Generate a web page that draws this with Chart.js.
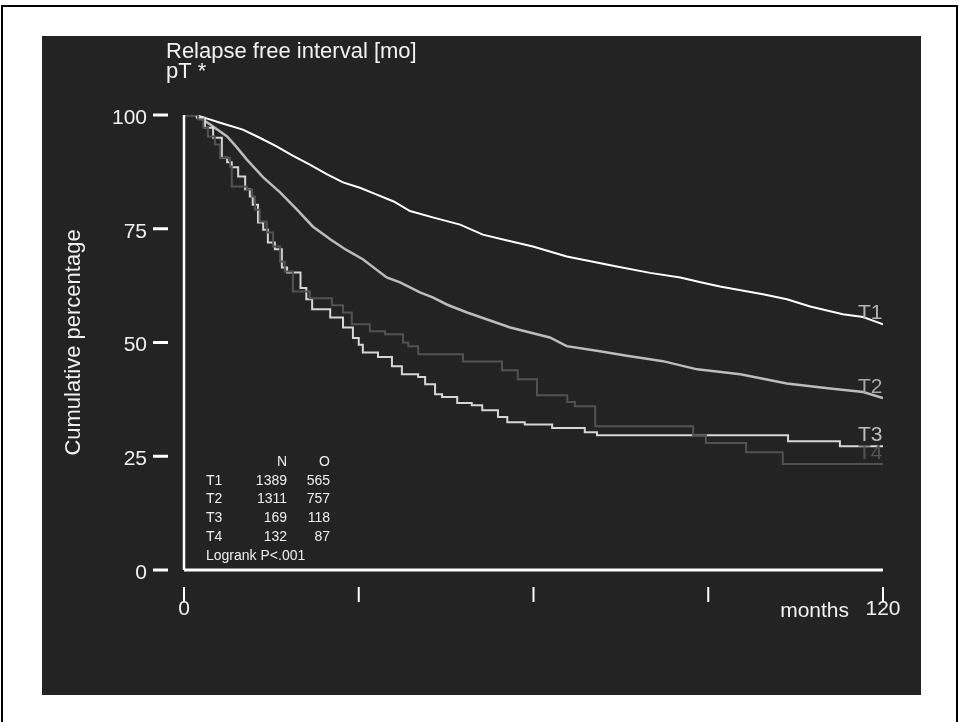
<!DOCTYPE html>
<html>
<head>
<meta charset="utf-8">
<title>Relapse free interval</title>
<script src="https://cdn.jsdelivr.net/npm/chart.js@4.4.1/dist/chart.umd.min.js"></script>
<style>
  html, body { margin: 0; padding: 0; background: #fff; }
  canvas { display: block; }
</style>
</head>
<body>
<canvas id="graficoRecidiva" width="959" height="722"></canvas>
<script>
// Kaplan-Meier curves (months, cumulative %)
const t1Months = [0, 2, 4, 6.2, 10.1, 13, 15.9, 18.5, 21.6, 24.5, 27.3, 30.2, 33.1, 36, 38.8, 42.7, 47.4, 51.3, 55.5, 59.9, 65.7, 70, 74.3, 80, 85.2, 88.5, 92, 99.4, 103.5, 107.5, 113.1, 116.6, 118.5, 120];
const t1Pct = [100, 100, 99.2, 98.3, 96.8, 95, 93.1, 91.2, 89.1, 87, 85.2, 84, 82.5, 81, 78.9, 77.5, 75.9, 73.7, 72.4, 71.1, 68.9, 67.8, 66.7, 65.3, 64.3, 63.3, 62.3, 60.6, 59.5, 57.9, 56.2, 55.6, 54.7, 54];

const t2Months = [0, 2, 4.5, 7.4, 9, 10.8, 13.6, 16.5, 19.4, 22.1, 25.1, 27.8, 30.7, 34.8, 37.1, 40.5, 42.7, 45.2, 48.6, 56, 62.8, 65.7, 71.4, 76, 80, 82.2, 88.1, 95.5, 103.5, 110.9, 116.6, 120];
const t2Pct = [100, 100, 97.9, 95.3, 93, 90.2, 86.3, 83, 79.2, 75.5, 72.7, 70.4, 68.3, 64.3, 63.2, 61, 59.9, 58.3, 56.6, 53.3, 51.1, 49.2, 48.1, 47.1, 46.3, 45.9, 44.1, 43, 41, 39.9, 39.1, 37.8];

const t3Months = [0, 2.2, 3.6, 5, 6.5, 7.4, 8.2, 9.3, 10.5, 11.3, 11.8, 12.7, 13.6, 14.4, 15.6, 16.8, 17.7, 20, 21, 22, 25.1, 27.3, 29, 30, 30.7, 33.3, 35.7, 37.4, 40.2, 41.4, 43.1, 44.3, 46.9, 49.4, 51.2, 53.9, 55.5, 58.5, 63.2, 68.8, 70.9, 103.7, 112.6, 120];
const t3Pct = [100, 99.4, 97.2, 95, 90.6, 89.6, 88.5, 86.5, 83.7, 82.1, 80.3, 76.4, 74.8, 72, 70.5, 66.5, 65.4, 62, 59.5, 57.3, 55.5, 53.3, 51, 49.5, 47.8, 46.8, 44.8, 43, 42.4, 40.8, 38.6, 38, 36.7, 36.2, 35.1, 33.6, 32.5, 32, 31.2, 30.3, 29.6, 28.3, 27.2, 27.2];

const t4Months = [0, 2.4, 3.3, 4.1, 5.3, 6.2, 7.9, 8.2, 10.8, 11.7, 12.2, 13, 14.2, 15.3, 16.5, 17.3, 18.7, 21.6, 25.4, 27.3, 28.8, 31.9, 34.5, 37.6, 38.5, 40.2, 47.9, 54.6, 57.3, 60.6, 65.8, 67.1, 70.6, 87.4, 89.6, 96.5, 102.8, 120];
const t4Pct = [100, 99, 97.2, 95.3, 93.5, 90.6, 88.7, 84.3, 83.6, 82.1, 79.2, 76.6, 74.2, 71.1, 67.8, 65.6, 61.2, 59.7, 58.2, 56.6, 54, 52.5, 51.8, 50, 49.2, 47.4, 45.8, 43.9, 41.9, 38.4, 36.9, 36, 31.6, 29.6, 27.9, 25.9, 23.3, 23.3];

const xTicks = [0, 30, 60, 90, 120];
const yTicks = [0, 25, 50, 75, 100];

const groups = ["T1", "T2", "T3", "T4"];
const nPatients = [1389, 1311, 169, 132];
const nEvents = [565, 757, 118, 87];
const logrankText = "Logrank P<.001";

const fonte = "'Liberation Sans', Arial, sans-serif";

function toPoints(months, pct) {
  return months.map((m, i) => ({ x: m, y: pct[i] }));
}

const painelPlugin = {
  id: "painel",
  beforeDraw(chart) {
    const ctx = chart.ctx;
    ctx.save();
    ctx.fillStyle = "#ffffff";
    ctx.fillRect(0, 0, chart.width, chart.height);
    ctx.strokeStyle = "#000000";
    ctx.lineWidth = 2;
    ctx.strokeRect(2, 6, 955, 740);
    ctx.fillStyle = "#232323";
    ctx.fillRect(42, 36, 879, 659);
    ctx.restore();
  }
};

const eixosPlugin = {
  id: "eixos",
  afterDraw(chart) {
    const ctx = chart.ctx;
    const sx = chart.scales.x;
    const sy = chart.scales.y;
    const area = chart.chartArea;
    ctx.save();
    ctx.strokeStyle = "#ffffff";

    // axis lines
    ctx.lineWidth = 2.5;
    ctx.beginPath();
    ctx.moveTo(area.left, sy.getPixelForValue(100));
    ctx.lineTo(area.left, area.bottom);
    ctx.stroke();
    ctx.lineWidth = 3;
    ctx.beginPath();
    ctx.moveTo(area.left, area.bottom);
    ctx.lineTo(sx.getPixelForValue(120), area.bottom);
    ctx.stroke();

    // detached tick marks
    ctx.lineWidth = 3;
    yTicks.forEach(v => {
      const py = sy.getPixelForValue(v);
      ctx.beginPath();
      ctx.moveTo(area.left - 31, py);
      ctx.lineTo(area.left - 16, py);
      ctx.stroke();
    });
    ctx.lineWidth = 2;
    xTicks.forEach(v => {
      const px = sx.getPixelForValue(v);
      ctx.beginPath();
      ctx.moveTo(px, area.bottom + 17);
      ctx.lineTo(px, area.bottom + 32);
      ctx.stroke();
    });

    // title
    ctx.fillStyle = "#f2f2f2";
    ctx.font = "22px " + fonte;
    ctx.textAlign = "left";
    ctx.textBaseline = "alphabetic";
    ctx.fillText("Relapse free interval [mo]", area.left - 18, 58);
    ctx.fillText("pT *", area.left - 18, 78);

    // x axis name next to last tick
    ctx.font = "21px " + fonte;
    ctx.textAlign = "right";
    ctx.textBaseline = "middle";
    ctx.fillText("months", sx.getPixelForValue(120) - 34, area.bottom + 41);

    // curve labels
    const rotulos = [
      { txt: "T1", last: t1Pct[t1Pct.length - 1], cor: "#b4b4b4" },
      { txt: "T2", last: t2Pct[t2Pct.length - 1], cor: "#a8a8a8" },
      { txt: "T3", last: t3Pct[t3Pct.length - 1], cor: "#bdbdbd" },
      { txt: "T4", last: t4Pct[t4Pct.length - 1], cor: "#555555" }
    ];
    ctx.textAlign = "left";
    rotulos.forEach(r => {
      ctx.fillStyle = r.cor;
      ctx.fillText(r.txt, sx.getPixelForValue(120) - 25, sy.getPixelForValue(r.last) - 11);
    });

    // N / O table
    ctx.fillStyle = "#eeeeee";
    ctx.font = "14px " + fonte;
    const colNome = area.left + 22;
    const colN = area.left + 103;
    const colO = area.left + 146;
    const y0 = area.bottom - 108;
    const passo = 18.8;
    ctx.textAlign = "right";
    ctx.fillText("N", colN, y0);
    ctx.fillText("O", colO, y0);
    groups.forEach((g, i) => {
      const yy = y0 + passo * (i + 1);
      ctx.textAlign = "left";
      ctx.fillText(g, colNome, yy);
      ctx.textAlign = "right";
      ctx.fillText(String(nPatients[i]), colN, yy);
      ctx.fillText(String(nEvents[i]), colO, yy);
    });
    ctx.textAlign = "left";
    ctx.fillText(logrankText, colNome, y0 + passo * 5);
    ctx.restore();
  }
};

function criarGrafico() {
  const ctx = document.getElementById("graficoRecidiva").getContext("2d");
  new Chart(ctx, {
    type: "line",
    data: {
      datasets: [
        { label: "T4", data: toPoints(t4Months, t4Pct), borderColor: "#525252", borderWidth: 2, stepped: true },
        { label: "T3", data: toPoints(t3Months, t3Pct), borderColor: "#d6d6d6", borderWidth: 2, stepped: true },
        { label: "T2", data: toPoints(t2Months, t2Pct), borderColor: "#bcbcbc", borderWidth: 2.5 },
        { label: "T1", data: toPoints(t1Months, t1Pct), borderColor: "#ffffff", borderWidth: 2 }
      ]
    },
    options: {
      responsive: false,
      animation: false,
      devicePixelRatio: 1,
      layout: { padding: { left: 42, top: 115, right: 76, bottom: 92 } },
      elements: { point: { radius: 0 }, line: { tension: 0, fill: false } },
      plugins: { legend: { display: false }, tooltip: { enabled: false } },
      scales: {
        x: {
          type: "linear",
          min: 0,
          max: 120,
          afterFit: scale => { scale.height = 60; },
          grid: { display: false, drawTicks: false },
          border: { display: false },
          ticks: {
            stepSize: 30,
            autoSkip: false,
            maxRotation: 0,
            padding: 27,
            color: "#f0f0f0",
            font: { family: fonte, size: 21 },
            callback: v => (v === 0 || v === 120) ? String(v) : ""
          }
        },
        y: {
          min: 0,
          max: 100,
          afterFit: scale => { scale.width = 142; },
          grid: { display: false, drawTicks: false },
          border: { display: false },
          ticks: {
            stepSize: 25,
            padding: 37,
            labelOffset: 3,
            color: "#f0f0f0",
            font: { family: fonte, size: 21 }
          },
          title: {
            display: true,
            text: "Cumulative percentage",
            color: "#f0f0f0",
            font: { family: fonte, size: 22 },
            padding: { top: 19, bottom: 0 }
          }
        }
      }
    },
    plugins: [painelPlugin, eixosPlugin]
  });
}

criarGrafico();
</script>
</body>
</html>
